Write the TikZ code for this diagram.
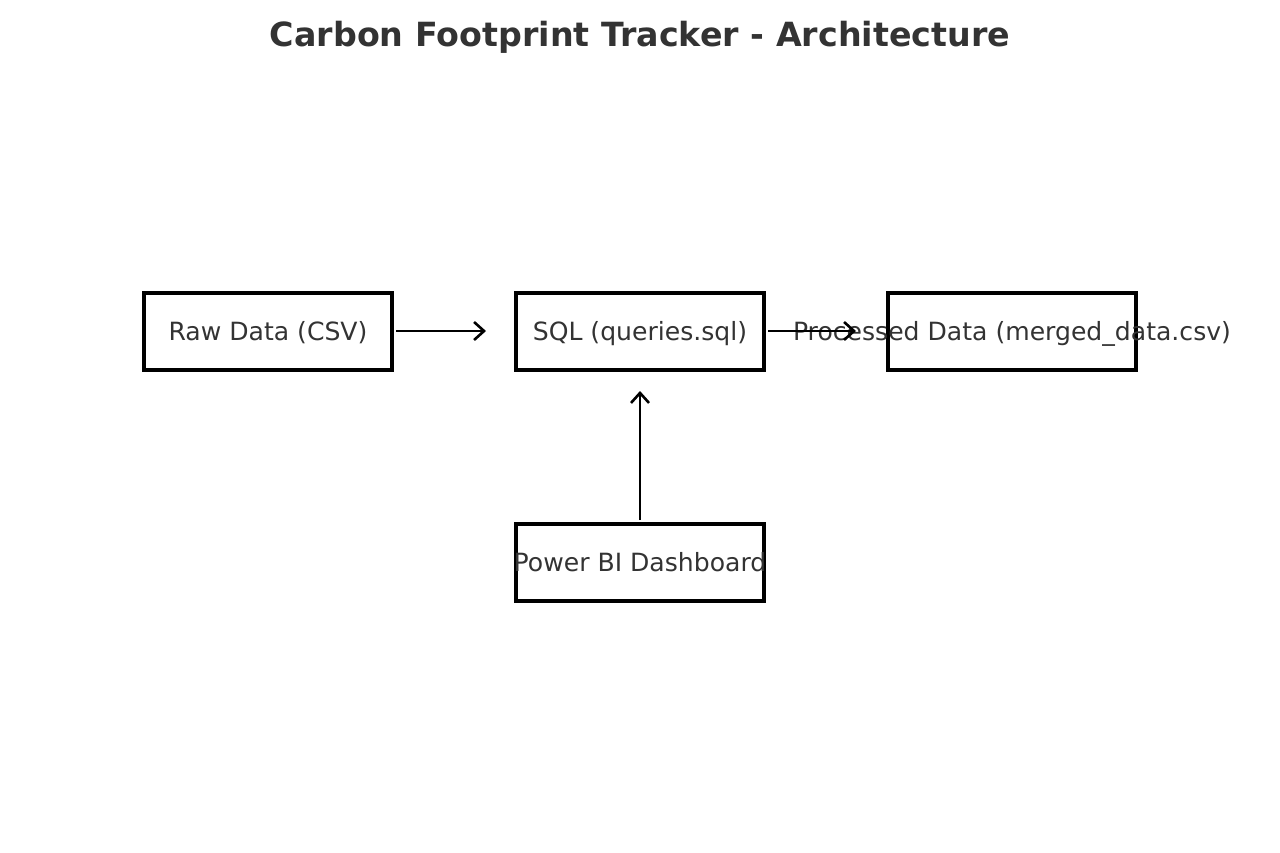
\documentclass[tikz,border=0pt]{standalone}
\usepackage{fontspec}
\setmainfont{DejaVu Sans}
\usetikzlibrary{arrows.meta}
\definecolor{txt}{HTML}{333333}
\tikzset{
  boxfont/.style={font=\fontsize{25.1}{28}\selectfont, text=txt, text height=22pt, text depth=5pt, inner sep=0pt},
  box/.style={draw=black, line width=3.5pt, minimum width=248pt, minimum height=77pt, inner sep=0pt},
  conn/.style={line width=2.4pt, -{Straight Barb[length=10pt,width=18pt,line width=2.6pt]}}
}
\begin{document}
\begin{tikzpicture}[x=1pt,y=-1pt]
\useasboundingbox (0,0) rectangle (1280,852);
\node[font=\bfseries\fontsize{33.3}{38}\selectfont, text=txt] (title) at (640,37) {Carbon Footprint Tracker - Architecture};
\node[box] (raw) at (268,331.5) {};
\node[box] (sql) at (640,331.5) {};
\node[box] (proc) at (1012,331.5) {};
\node[box] (pbi) at (640,562.5) {};
\node[boxfont] (rawtext) at (raw.center) {Raw Data (CSV)};
\node[boxfont] (sqltext) at (sql.center) {SQL (queries.sql)};
\node[boxfont] (proctext) at (proc.center) {Processed Data (merged\_data.csv)};
\node[boxfont] (pbitext) at (pbi.center) {Power BI Dashboard};
\coordinate (a1s) at (396,331);
\coordinate (a1e) at (486,331);
\coordinate (a2s) at (768,331);
\coordinate (a2e) at (856,331);
\coordinate (a3s) at (640,520);
\coordinate (a3e) at (640,391);
\draw[conn] (a1s) -- (a1e);
\draw[conn] (a2s) -- (a2e);
\draw[conn] (a3s) -- (a3e);
\end{tikzpicture}
\end{document}
